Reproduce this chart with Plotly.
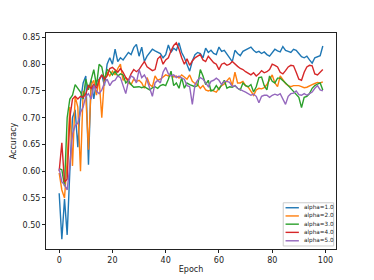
import plotly.graph_objects as go

epochs = list(range(100))

alpha_1 = [0.559, 0.473, 0.548, 0.481, 0.600, 0.700, 0.715, 0.645, 0.730, 0.765,
           0.778, 0.612, 0.770, 0.735, 0.768, 0.772, 0.780, 0.760, 0.800, 0.812,
           0.800, 0.828, 0.805, 0.812, 0.808, 0.815, 0.822, 0.818, 0.831, 0.837,
           0.815, 0.832, 0.805, 0.815, 0.822, 0.828, 0.825, 0.823, 0.820, 0.812,
           0.818, 0.836, 0.822, 0.830, 0.826, 0.840, 0.822, 0.812, 0.798, 0.787,
           0.806, 0.818, 0.822, 0.820, 0.812, 0.830, 0.822, 0.826, 0.820, 0.818,
           0.832, 0.824, 0.826, 0.818, 0.812, 0.805, 0.826, 0.820, 0.816, 0.824,
           0.827, 0.829, 0.832, 0.826, 0.822, 0.824, 0.820, 0.823, 0.818, 0.815,
           0.822, 0.828, 0.825, 0.823, 0.833, 0.826, 0.824, 0.822, 0.828, 0.826,
           0.820, 0.814, 0.812, 0.815, 0.808, 0.802, 0.812, 0.814, 0.816, 0.834]

alpha_2 = [0.597, 0.565, 0.550, 0.620, 0.720, 0.610, 0.740, 0.720, 0.600, 0.750,
           0.740, 0.640, 0.762, 0.770, 0.742, 0.772, 0.700, 0.775, 0.785, 0.778,
           0.787, 0.780, 0.792, 0.800, 0.770, 0.775, 0.765, 0.762, 0.772, 0.768,
           0.770, 0.765, 0.755, 0.775, 0.762, 0.758, 0.778, 0.770, 0.772, 0.776,
           0.780, 0.778, 0.780, 0.776, 0.778, 0.774, 0.780, 0.776, 0.772, 0.780,
           0.768, 0.764, 0.762, 0.755, 0.760, 0.752, 0.750, 0.752, 0.750, 0.748,
           0.755, 0.760, 0.763, 0.770, 0.775, 0.760, 0.785, 0.765, 0.765, 0.768,
           0.760, 0.757, 0.750, 0.742, 0.752, 0.755, 0.754, 0.756, 0.762, 0.770,
           0.780, 0.765, 0.758, 0.778, 0.770, 0.764, 0.760, 0.758, 0.760, 0.760,
           0.760, 0.758, 0.756, 0.757, 0.760, 0.762, 0.764, 0.766, 0.765, 0.767]

alpha_3 = [0.605, 0.603, 0.572, 0.700, 0.735, 0.742, 0.762, 0.755, 0.748, 0.735,
           0.772, 0.752, 0.770, 0.790, 0.760, 0.800, 0.795, 0.770, 0.790, 0.787,
           0.780, 0.787, 0.778, 0.782, 0.780, 0.765, 0.770, 0.762, 0.757, 0.757,
           0.758, 0.756, 0.758, 0.755, 0.752, 0.756, 0.758, 0.755, 0.760, 0.762,
           0.760, 0.772, 0.787, 0.760, 0.765, 0.755, 0.775, 0.755, 0.765, 0.762,
           0.760, 0.758, 0.760, 0.790, 0.778, 0.762, 0.770, 0.750, 0.752, 0.760,
           0.753, 0.762, 0.770, 0.755, 0.758, 0.757, 0.760, 0.755, 0.752, 0.765,
           0.760, 0.758, 0.762, 0.748, 0.758, 0.775, 0.776, 0.760, 0.752, 0.778,
           0.768, 0.765, 0.774, 0.774, 0.770, 0.765, 0.760, 0.755, 0.750, 0.745,
           0.738, 0.719, 0.738, 0.740, 0.745, 0.755, 0.760, 0.763, 0.765, 0.752]

alpha_4 = [0.600, 0.653, 0.580, 0.585, 0.700, 0.735, 0.740, 0.735, 0.740, 0.738,
           0.745, 0.760, 0.755, 0.762, 0.755, 0.770, 0.780, 0.772, 0.778, 0.792,
           0.794, 0.790, 0.785, 0.792, 0.785, 0.775, 0.770, 0.782, 0.790, 0.786,
           0.790, 0.798, 0.805, 0.795, 0.792, 0.788, 0.790, 0.810, 0.815, 0.800,
           0.808, 0.812, 0.825, 0.835, 0.840, 0.828, 0.812, 0.800, 0.810, 0.798,
           0.806, 0.812, 0.815, 0.818, 0.808, 0.805, 0.815, 0.810, 0.803, 0.800,
           0.790, 0.800, 0.802, 0.798, 0.800, 0.805, 0.800, 0.796, 0.792, 0.790,
           0.786, 0.783, 0.780, 0.784, 0.778, 0.782, 0.788, 0.784, 0.786, 0.790,
           0.800, 0.798, 0.795, 0.785, 0.782, 0.788, 0.795, 0.798, 0.797, 0.785,
           0.772, 0.770, 0.785, 0.795, 0.798, 0.797, 0.782, 0.780, 0.786, 0.790]

alpha_5 = [0.605, 0.580, 0.575, 0.565, 0.610, 0.670, 0.685, 0.690, 0.710, 0.720,
           0.740, 0.745, 0.735, 0.760, 0.750, 0.745, 0.752, 0.765, 0.772, 0.760,
           0.768, 0.770, 0.778, 0.775, 0.760, 0.745, 0.768, 0.778, 0.775, 0.765,
           0.790, 0.775, 0.780, 0.770, 0.755, 0.740, 0.765, 0.770, 0.765, 0.785,
           0.794, 0.782, 0.778, 0.780, 0.775, 0.778, 0.774, 0.772, 0.760, 0.758,
           0.725, 0.762, 0.770, 0.775, 0.772, 0.765, 0.758, 0.768, 0.770, 0.774,
           0.770, 0.762, 0.768, 0.768, 0.766, 0.758, 0.760, 0.755, 0.752, 0.750,
           0.748, 0.745, 0.742, 0.744, 0.740, 0.728, 0.740, 0.742, 0.742, 0.738,
           0.742, 0.744, 0.742, 0.745, 0.735, 0.725, 0.740, 0.745, 0.746, 0.750,
           0.743, 0.742, 0.745, 0.742, 0.745, 0.748, 0.755, 0.760, 0.752, 0.750]

series_names = ["alpha=1.0", "alpha=2.0", "alpha=3.0", "alpha=4.0", "alpha=5.0"]
series_values = [alpha_1, alpha_2, alpha_3, alpha_4, alpha_5]
colors = ["#1f77b4", "#ff7f0e", "#2ca02c", "#d62728", "#9467bd"]

x_ticks = [0, 20, 40, 60, 80, 100]
y_ticks = [0.50, 0.55, 0.60, 0.65, 0.70, 0.75, 0.80, 0.85]

fig = go.Figure()
for name, vals, c in zip(series_names, series_values, colors):
    fig.add_trace(go.Scatter(x=epochs, y=vals, mode="lines", name=name,
                             line=dict(color=c, width=1.4), showlegend=False))

allv = [v for s in series_values for v in s]
ymin, ymax = min(allv), max(allv)
ypad = 0.05 * (ymax - ymin)
xmin, xmax = min(epochs), max(epochs)
xpad = 0.05 * (xmax - xmin)

font = "DejaVu Sans"
axis_common = dict(showgrid=False, zeroline=False, showline=True, linecolor="#222",
                   linewidth=1, mirror=True, ticks="outside", ticklen=3,
                   tickwidth=1, tickcolor="#222", automargin=False,
                   tickfont=dict(family=font, size=8, color="#222"))

# legend drawn in paper coordinates (matplotlib style, lower right)
shapes = [dict(type="rect", xref="paper", yref="paper", x0=0.818, x1=0.992,
               y0=0.014, y1=0.214, line=dict(color="#cccccc", width=1),
               fillcolor="rgba(255,255,255,0.8)", layer="above")]
annotations = []
row_y = [0.191, 0.153, 0.115, 0.077, 0.038]
for name, c, ry in zip(series_names, colors, row_y):
    shapes.append(dict(type="line", xref="paper", yref="paper", x0=0.826, x1=0.872,
                       y0=ry, y1=ry, line=dict(color=c, width=1.4), layer="above"))
    annotations.append(dict(xref="paper", yref="paper", x=0.882, y=ry, text=name,
                            showarrow=False, xanchor="left", yanchor="middle",
                            font=dict(family=font, size=5.7, color="#222")))

fig.update_layout(
    width=374, height=280,
    margin=dict(l=46, r=38, t=33, b=31),
    paper_bgcolor="white", plot_bgcolor="white",
    font=dict(family=font, size=8, color="#222"),
    xaxis=dict(range=[xmin - xpad, xmax + xpad], tickvals=x_ticks,
               title=dict(text="Epoch", font=dict(family=font, size=8), standoff=2),
               **axis_common),
    yaxis=dict(range=[ymin - ypad, ymax + ypad], tickvals=y_ticks,
               tickformat=".2f",
               title=dict(text="Accuracy", font=dict(family=font, size=8), standoff=4),
               **axis_common),
    shapes=shapes,
    annotations=annotations,
    showlegend=False,
)

fig.write_html(
    "out.html",
    config={"displayModeBar": False, "staticPlot": True},
    post_script="document.body.style.margin='0';document.body.style.padding='0';",
)
